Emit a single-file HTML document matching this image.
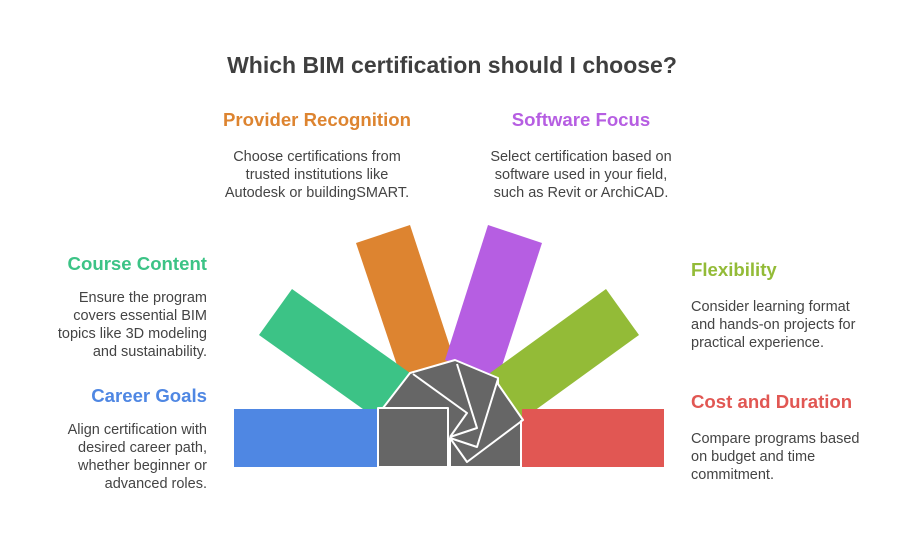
<!DOCTYPE html>
<html><head><style>
body{margin:0;width:904px;height:555px;background:#fff;font-family:"Liberation Sans",sans-serif;position:relative;overflow:hidden}
.t{position:absolute;white-space:nowrap}
h1{position:absolute;left:0;width:904px;top:52px;margin:0;text-align:center;font-size:23px;color:#3f3f3f;font-weight:bold}
.h{font-weight:bold;font-size:18.6px}
.b{font-size:14.5px;color:#444;line-height:18px}
.c{text-align:center}.r{text-align:right}
</style></head><body>
<h1>Which BIM certification should I choose?</h1>
<div class="t h c" style="left:200px;width:234px;top:109px;color:#dd8430">Provider Recognition</div>
<div class="t b c" style="left:200px;width:234px;top:148px">Choose certifications from<br>trusted institutions like<br>Autodesk or buildingSMART.</div>
<div class="t h c" style="left:464px;width:234px;top:109px;color:#b65ee2">Software Focus</div>
<div class="t b c" style="left:464px;width:234px;top:148px">Select certification based on<br>software used in your field,<br>such as Revit or ArchiCAD.</div>
<div class="t h r" style="right:697px;top:253px;color:#3cc386">Course Content</div>
<div class="t b r" style="right:697px;top:289px">Ensure the program<br>covers essential BIM<br>topics like 3D modeling<br>and sustainability.</div>
<div class="t h r" style="right:697px;top:385px;color:#4f87e3">Career Goals</div>
<div class="t b r" style="right:697px;top:421px">Align certification with<br>desired career path,<br>whether beginner or<br>advanced roles.</div>
<div class="t h" style="left:691px;top:259px;color:#93bb37">Flexibility</div>
<div class="t b" style="left:691px;top:298px">Consider learning format<br>and hands-on projects for<br>practical experience.</div>
<div class="t h" style="left:691px;top:391px;color:#e15753">Cost and Duration</div>
<div class="t b" style="left:691px;top:430px">Compare programs based<br>on budget and time<br>commitment.</div>
<svg width="904" height="555" style="position:absolute;left:0;top:0">
<polygon points="356,243 410,225 455,362 402,380" fill="#dd8430"/>
<polygon points="488,225 542,243 498,378 445,360" fill="#b65ee2"/>
<polygon points="259,335 292,289 410,373 377,419" fill="#3cc386"/>
<polygon points="606,289 639,335 523,419 490,373" fill="#93bb37"/>
<rect x="234" y="409" width="143" height="58" fill="#4f87e3"/>
<rect x="522" y="409" width="142" height="58" fill="#e15753"/>
<g stroke="#fff" stroke-width="2" fill="#666" stroke-linejoin="round">
<polygon points="378,467 378,408 383,408 410,373 455,360 498,378 498,384 523,420 521,421 521,467"/>
<polyline fill="none" points="378,408 448,408 448,467"/>
<polyline fill="none" points="413,374 467,413 450,437"/>
<polyline fill="none" points="457,364 477,428 450,437"/>
<polyline fill="none" points="498,379 477,447 450,438"/>
<polyline fill="none" points="523,420 467,462 450,438 450,467"/>
</g>
</svg>
</body></html>
